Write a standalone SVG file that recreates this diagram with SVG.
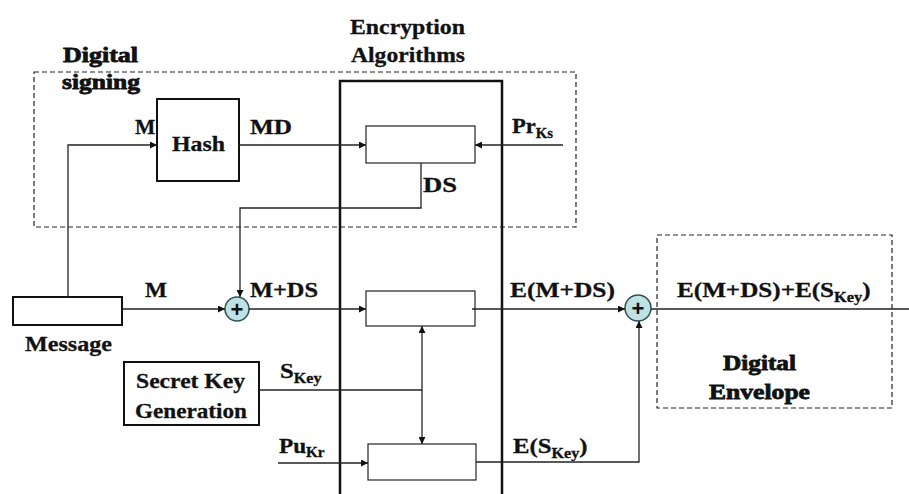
<svg xmlns="http://www.w3.org/2000/svg" width="909" height="494" viewBox="0 0 909 494" font-family="'Liberation Serif', Tinos, 'Times New Roman', 'DejaVu Serif', serif">
  <style>
    .t { font-family: 'Liberation Serif', Tinos, 'Times New Roman', 'DejaVu Serif', serif; font-weight: 700; font-size: 21.5px; fill: #111; stroke: #111; stroke-width: 0.3px; }
    .heavy { stroke-width: 0.8px; }
    .sub { font-size: 14px; }
    .box { fill: #fff; stroke: #111; stroke-width: 2; }
    .thin { fill: #fff; stroke: #222; stroke-width: 1.2; }
    .group { fill: none; stroke: #222; stroke-width: 1.2; stroke-dasharray: 5 3; }
    .wire { fill: none; stroke: #222; stroke-width: 1.3; }
    .arr { marker-end: url(#ah); }
    .sum { fill: #bfe1e4; stroke: #2f4f52; stroke-width: 1.5; }
    .plus { font-family: 'Liberation Sans', Arial, sans-serif; font-weight: 700; font-size: 22px; fill: #111; }
  </style>
  <defs>
    <marker id="ah" viewBox="0 0 10 10" refX="10" refY="5" markerWidth="8" markerHeight="7" markerUnits="userSpaceOnUse" orient="auto">
      <path d="M0,0 L10,5 L0,10 z" fill="#111"/>
    </marker>
    <marker id="ahs" viewBox="0 0 10 10" refX="0" refY="5" markerWidth="8" markerHeight="7" markerUnits="userSpaceOnUse" orient="auto">
      <path d="M10,0 L0,5 L10,10 z" fill="#111"/>
    </marker>
  </defs>
  <rect width="909" height="494" fill="#fff"/>

  <!-- dashed grouping regions -->
  <g id="digital-signing">
    <rect class="group" x="34" y="72" width="542" height="155"/>
    <text class="t heavy" x="63" y="62" textLength="75" lengthAdjust="spacingAndGlyphs">Digital</text>
    <text class="t heavy" x="62" y="89" textLength="78" lengthAdjust="spacingAndGlyphs">signing</text>
  </g>
  <g id="digital-envelope">
    <rect class="group" x="657" y="235" width="235" height="173"/>
    <text class="t heavy" x="723" y="370" textLength="73" lengthAdjust="spacingAndGlyphs">Digital</text>
    <text class="t heavy" x="709" y="399" textLength="101" lengthAdjust="spacingAndGlyphs">Envelope</text>
  </g>

  <!-- encryption algorithms column -->
  <g id="encryption-algorithms">
    <path d="M340,494 V81 H502 V494" fill="none" stroke="#111" stroke-width="2.5"/>
    <text class="t" x="350" y="34" textLength="115" lengthAdjust="spacingAndGlyphs">Encryption</text>
    <text class="t" x="351" y="62" textLength="114" lengthAdjust="spacingAndGlyphs">Algorithms</text>
  </g>
  <g id="sign-cipher"><rect class="thin" x="366" y="126" width="109" height="37"/></g>
  <g id="message-cipher"><rect class="thin" x="366" y="291" width="109" height="35"/></g>
  <g id="key-cipher"><rect class="thin" x="368" y="444" width="108" height="36"/></g>

  <!-- blocks -->
  <g id="hash">
    <rect class="box" x="157" y="99" width="82" height="82"/>
    <text class="t" x="172" y="151" textLength="53" lengthAdjust="spacingAndGlyphs">Hash</text>
  </g>
  <g id="message">
    <rect class="box" x="13" y="297" width="109" height="28"/>
    <text class="t" x="25" y="351" textLength="87" lengthAdjust="spacingAndGlyphs">Message</text>
  </g>
  <g id="secret-key-generation">
    <rect class="box" x="124" y="362" width="135" height="63"/>
    <text class="t" x="136" y="388" textLength="109" lengthAdjust="spacingAndGlyphs">Secret Key</text>
    <text class="t" x="135" y="418" textLength="112" lengthAdjust="spacingAndGlyphs">Generation</text>
  </g>

  <!-- adders -->
  <g id="adder-1">
    <circle class="sum" cx="237" cy="309" r="12"/>
    <text class="plus" x="237" y="317" text-anchor="middle">+</text>
  </g>
  <g id="adder-2">
    <circle class="sum" cx="638" cy="308" r="13"/>
    <text class="plus" x="638" y="316" text-anchor="middle">+</text>
  </g>

  <!-- connectors -->
  <g id="connectors">
    <path class="wire arr" d="M68,297 V145 H157"/>
    <path class="wire arr" d="M239,145 H366"/>
    <path class="wire arr" d="M563,145 H475"/>
    <path class="wire arr" d="M421,163 V208 H240 V297"/>
    <path class="wire arr" d="M122,309 H225"/>
    <path class="wire arr" d="M249,309 H366"/>
    <path class="wire arr" d="M472,309 H625"/>
    <path class="wire arr" d="M476,462 H639 V321"/>
    <path class="wire" d="M651,309 H909"/>
    <path class="wire" d="M259,390 H422"/>
    <path class="wire arr" d="M422,326 V444" style="marker-start:url(#ahs)"/>
    <path class="wire arr" d="M278,463 H368"/>
  </g>

  <!-- connector labels -->
  <g id="labels">
    <text class="t" x="135" y="134">M</text>
    <text class="t" x="250" y="134" textLength="42" lengthAdjust="spacingAndGlyphs">MD</text>
    <text class="t" transform="translate(512,133) scale(1.05,1)">Pr<tspan class="sub" dy="5">Ks</tspan></text>
    <text class="t" x="423" y="192" textLength="34" lengthAdjust="spacingAndGlyphs">DS</text>
    <text class="t" x="145" y="297" textLength="22" lengthAdjust="spacingAndGlyphs">M</text>
    <text class="t" x="250" y="297" textLength="68" lengthAdjust="spacingAndGlyphs">M+DS</text>
    <text class="t" x="510" y="297" textLength="105" lengthAdjust="spacingAndGlyphs">E(M+DS)</text>
    <text class="t" transform="translate(677,297) scale(1.17,1)">E(M+DS)+E(S<tspan class="sub" dy="5">Key</tspan><tspan dy="-5">)</tspan></text>
    <text class="t" transform="translate(280,378) scale(1.15,1)">S<tspan class="sub" dy="5">Key</tspan></text>
    <text class="t" transform="translate(279,453) scale(1.08,1)">Pu<tspan class="sub" dy="4">Kr</tspan></text>
    <text class="t" transform="translate(513,453) scale(1.15,1)">E(S<tspan class="sub" dy="5">Key</tspan><tspan dy="-5">)</tspan></text>
  </g>
</svg>
